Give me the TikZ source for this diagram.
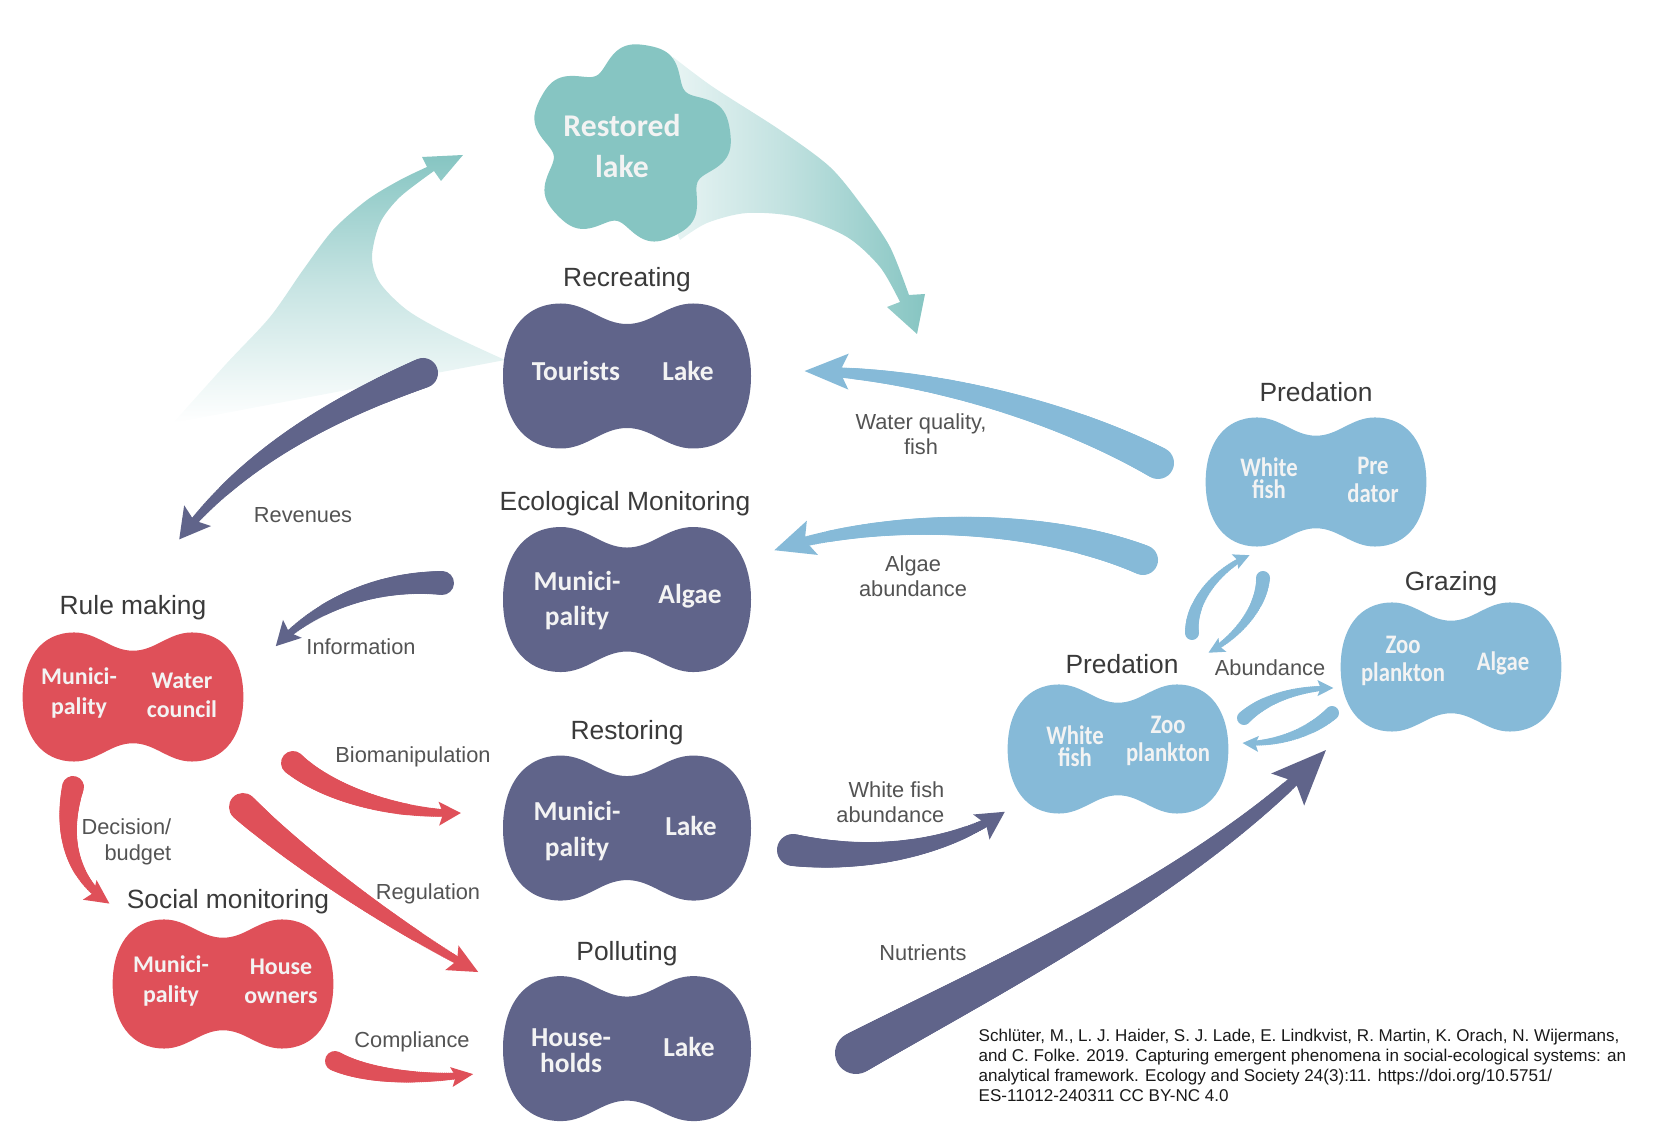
\documentclass[tikz,border=0pt]{standalone}
\usepackage{fontspec}
\setmainfont{Liberation Sans}
\newfontfamily\blobfont{Carlito}
\newfontfamily\blobnarrow[FakeStretch=0.85]{Carlito}
\usepackage{xcolor}
\usetikzlibrary{calc,positioning,decorations.markings}
\definecolor{ActorDark}{HTML}{60648A}
\definecolor{ActorRed}{HTML}{DF5059}
\definecolor{EcoBlue}{HTML}{86BAD8}
\definecolor{LakeTeal}{HTML}{86C5C2}
\definecolor{TitleGrey}{HTML}{3A3A3A}
\definecolor{LabelGrey}{HTML}{535353}
\definecolor{BlobText}{HTML}{F3F3F3}
\newcommand{\peanut}[3]{%
    \fill[#1, shift={(#2)}, scale=#3]
        (0,-52) .. controls (-25,-52) and (-40,-72.5) .. (-66,-72.5)
        .. controls (-104,-72.5) and (-124,-42) .. (-124,0)
        .. controls (-124,42) and (-104,72.5) .. (-66,72.5)
        .. controls (-40,72.5) and (-25,52) .. (0,52)
        .. controls (25,52) and (40,72.5) .. (66,72.5)
        .. controls (104,72.5) and (124,42) .. (124,0)
        .. controls (124,-42) and (104,-72.5) .. (66,-72.5)
        .. controls (40,-72.5) and (25,-52) .. (0,-52) -- cycle;%
}

\begin{document}
\begin{tikzpicture}[x=0.01cm, y=-0.01cm,
    blob/.style={minimum width=2.48cm, minimum height=1.45cm, inner sep=0pt},
    smallblob/.style={minimum width=2.21cm, minimum height=1.29cm, inner sep=0pt},
    blobtitle/.style={font=\fontsize{7.5}{9}\selectfont, text=TitleGrey, inner sep=0pt},
    flowlabel/.style={font=\fontsize{6.2}{7.2}\selectfont, text=LabelGrey, align=center, inner sep=0pt},
    darktxt/.style={font=\blobfont\bfseries\fontsize{7.8}{10}\selectfont, text=BlobText, align=center, inner sep=0pt},
    redtxt/.style={font=\blobfont\bfseries\fontsize{6.8}{8.3}\selectfont, text=BlobText, align=center, inner sep=0pt},
    bluetxt/.style={font=\blobnarrow\bfseries\fontsize{7.6}{8}\selectfont, text=BlobText, align=center, inner sep=0pt},
    brush/.style n args={5}{
        decoration={markings,
            mark=between positions 0 and 0.93 step 0.6pt with {%
                \pgfmathsetmacro\brushr{(#2-(#2-#3)*\pgfkeysvalueof{/pgf/decoration/mark info/distance from start}/\pgfdecoratedpathlength)*0.2845}%
                \fill[#1] (0pt,0pt) circle (\brushr pt);
            },
            mark=at position 0.995 with {\fill[#1] (0,0) -- (-#4,#5/2) -- (-0.8*#4,0) -- (-#4,-#5/2) -- cycle;}
        },
        decorate}]
    \useasboundingbox (0,0) rectangle (1654,1122);

    \node[blob] (rec) at (627,376) {};
    \node[blob, below=0.77cm of rec] (eco) {};
    \node[blob, below=0.82cm of eco] (rst) {};
    \node[blob, below=0.74cm of rst] (pol) {};
    \node[smallblob] (rule) at (133,697) {};
    \node[smallblob] (soc) at (223,984) {};
    \node[smallblob] (predT) at (1316,482) {};
    \node[smallblob] (graz) at (1451,667) {};
    \node[smallblob] (predB) at (1118,749) {};
    \coordinate (lakeC) at (630,145);

    \shade[top color=LakeTeal, bottom color=white, middle color=LakeTeal!45]
        plot[smooth] coordinates {(173,423) (227,363) (270,317) (303,270) (333,230) (367,200) (400,180) (427,167)}
        -- (422,157) -- (463,155) -- (441,181)
        -- plot[smooth] coordinates {(434,171) (400,197) (380,223) (372,257) (380,283) (407,310) (447,333) (505,360)}
        -- cycle;
    \shade[left color=LakeTeal!10, right color=LakeTeal, middle color=LakeTeal!50]
        (640,150) -- plot[smooth] coordinates {(673,57) (713,87) (780,130) (830,167) (863,207) (890,247) (909,295)}
        -- (925,294) -- (917,334) -- (887,307)
        -- plot[smooth] coordinates {(900,302) (880,267) (847,237) (797,217) (747,213) (707,223) (680,240)}
        -- cycle;
    \fill[LakeTeal, shift={(lakeC)}] plot[domain=0:360, samples=200, variable=\t]
        ({(92+12*cos(5*(\t-80))-3*cos(10*(\t-80)))*cos(\t)}, {-(92+12*cos(5*(\t-80))-3*cos(10*(\t-80)))*sin(\t)}) -- cycle;

    \peanut{ActorDark}{rec}{1}
    \peanut{ActorDark}{eco}{1}
    \peanut{ActorDark}{rst}{1}
    \peanut{ActorDark}{pol}{1}
    \peanut{ActorRed}{rule}{0.89}
    \peanut{ActorRed}{soc}{0.89}
    \peanut{EcoBlue}{predT}{0.89}
    \peanut{EcoBlue}{graz}{0.89}
    \peanut{EcoBlue}{predB}{0.89}

    \node[font=\blobfont\bfseries\fontsize{9}{11.4}\selectfont, text=BlobText, align=center, inner sep=0pt] (lake) at (622,146) {Restored\\lake};

    \node[blobtitle, above=0.16cm of rec, anchor=base] (recT) {Recreating};
    \node[blobtitle, above=0.16cm of eco, anchor=base, xshift=-0.02cm] (ecoT) {Ecological Monitoring};
    \node[blobtitle, above=0.15cm of rst, anchor=base] (rstT) {Restoring};
    \node[blobtitle, above=0.145cm of pol, anchor=base] (polT) {Polluting};
    \node[blobtitle, above=0.17cm of rule, anchor=base] (ruleT) {Rule making};
    \node[blobtitle, above=0.10cm of soc, anchor=base, xshift=0.05cm] (socT) {Social monitoring};
    \node[blobtitle, above=0.15cm of predT, anchor=base] (predTT) {Predation};
    \node[blobtitle, above=0.11cm of graz, anchor=base] (grazT) {Grazing};
    \node[blobtitle, above=0.10cm of predB, anchor=base, xshift=0.04cm] (predBT) {Predation};

    \node[darktxt] (recA) at ($(rec)+(-51,-5)$) {Tourists};
    \node[darktxt] (recB) at ($(rec)+(61,-5)$) {Lake};
    \node[darktxt] (ecoA) at ($(eco)+(-50,1)$) {Munici-\\pality};
    \node[darktxt] (ecoB) at ($(eco)+(63,-3)$) {Algae};
    \node[darktxt] (rstA) at ($(rst)+(-50,3)$) {Munici-\\pality};
    \node[darktxt] (rstB) at ($(rst)+(64,-2)$) {Lake};
    \node[darktxt] (polA) at ($(pol)+(-56,2)$) {House-\\[-2.6pt]holds};
    \node[darktxt] (polB) at ($(pol)+(62,-2)$) {Lake};
    \node[redtxt] (ruleA) at ($(rule)+(-54,-4)$) {Munici-\\pality};
    \node[redtxt] (ruleB) at ($(rule)+(49,-2)$) {Water\\council};
    \node[redtxt] (socA) at ($(soc)+(-52,-3)$) {Munici-\\pality};
    \node[redtxt] (socB) at ($(soc)+(58,-3)$) {House\\owners};
    \node[bluetxt] (predTA) at ($(predT)+(-47,-4)$) {White\\[-1.6pt]fish};
    \node[bluetxt] (predTB) at ($(predT)+(57,-2)$) {Pre\\dator};
    \node[bluetxt] (grazA) at ($(graz)+(-48,-6)$) {Zoo\\plankton};
    \node[bluetxt] (grazB) at ($(graz)+(52,-4)$) {Algae};
    \node[bluetxt] (predBA) at ($(predB)+(-43,-3)$) {White\\[-1.6pt]fish};
    \node[bluetxt] (predBB) at ($(predB)+(50,-8)$) {Zoo\\plankton};

    \coordinate (revS) at (423,373);   \coordinate (revE) at (178,541);
    \coordinate (infoS) at (442,583);  \coordinate (infoE) at (275,647);
    \coordinate (wqS) at (1158,463);   \coordinate (wqE) at (802,371);
    \coordinate (algS) at (1143,560);  \coordinate (algE) at (772,551);
    \coordinate (wfS) at (793,850);    \coordinate (wfE) at (1006,811);
    \coordinate (nutS) at (856,1053);  \coordinate (nutE) at (1326,750);
    \coordinate (bioS) at (293,763);   \coordinate (bioE) at (462,813);
    \coordinate (decS) at (73,787);    \coordinate (decE) at (110,904);
    \coordinate (regS) at (243,807);   \coordinate (regE) at (480,973);
    \coordinate (compS) at (335,1061); \coordinate (compE) at (474,1074);
    \coordinate (upS) at (1192,633);   \coordinate (upE) at (1250,555);
    \coordinate (dnS) at (1263,578);   \coordinate (dnE) at (1208,653);
    \coordinate (rtS) at (1244,718);   \coordinate (rtE) at (1334,688);
    \coordinate (ltS) at (1332,713);   \coordinate (ltE) at (1242,743);

    \path[brush={ActorDark}{15}{3}{30}{34}] (revS) .. controls (330,410) and (240,460) .. (revE);
    \path[brush={ActorDark}{12}{2.5}{24}{26}] (infoS) .. controls (370,580) and (310,610) .. (infoE);
    \path[brush={EcoBlue}{16}{4}{44}{36}] (wqS) .. controls (1060,410) and (920,372) .. (wqE);
    \path[brush={EcoBlue}{15}{4}{40}{36}] (algS) .. controls (1040,518) and (880,515) .. (algE);
    \path[brush={ActorDark}{16}{3}{28}{30}] (wfS) .. controls (870,862) and (950,848) .. (wfE);
    \path[brush={ActorDark}{21}{4}{55}{46}] (nutS) .. controls (1000,975) and (1200,880) .. (nutE);
    \path[brush={ActorRed}{12}{3}{22}{24}] (bioS) .. controls (330,795) and (400,815) .. (bioE);
    \path[brush={ActorRed}{11}{3}{24}{24}] (decS) .. controls (60,840) and (75,880) .. (decE);
    \path[brush={ActorRed}{14}{3}{30}{28}] (regS) .. controls (300,860) and (400,930) .. (regE);
    \path[brush={ActorRed}{10}{2.5}{22}{20}] (compS) .. controls (370,1078) and (430,1080) .. (compE);
    \path[brush={EcoBlue}{7}{2}{16}{16}] (upS) .. controls (1190,600) and (1220,568) .. (upE);
    \path[brush={EcoBlue}{7}{2}{16}{16}] (dnS) .. controls (1262,605) and (1240,635) .. (dnE);
    \path[brush={EcoBlue}{7}{2}{16}{16}] (rtS) .. controls (1265,698) and (1300,688) .. (rtE);
    \path[brush={EcoBlue}{7}{2}{16}{16}] (ltS) .. controls (1310,733) and (1275,745) .. (ltE);

    \node[flowlabel] (revL) at (303,515) {Revenues};
    \node[flowlabel] (infoL) at (361,647) {Information};
    \node[flowlabel] (wqL) at (921,434) {Water quality,\\fish};
    \node[flowlabel] (algL) at (913,576) {Algae\\abundance};
    \node[flowlabel] (bioL) at (413,757) {Biomanipulation};
    \node[flowlabel, align=right, anchor=east] (decL) at (172,842) {Decision/\\budget};
    \node[flowlabel] (regL) at (428,894) {Regulation};
    \node[flowlabel] (compL) at (412,1042) {Compliance};
    \node[flowlabel, align=right, anchor=east] (wfL) at (945,802) {White fish\\abundance};
    \node[flowlabel] (nutL) at (923,953) {Nutrients};
    \node[flowlabel] (abL) at (1270,668) {Abundance};

    \node[font=\fontsize{4.85}{5.75}\selectfont, text=black!90, align=left, anchor=north west, inner sep=0pt] (cite) at (978,1028)
        {Schlüter, M., L. J. Haider, S. J. Lade, E. Lindkvist, R. Martin, K. Orach, N. Wijermans,\\
         and C. Folke. 2019. Capturing emergent phenomena in social-ecological systems: an\\
         analytical framework. Ecology and Society 24(3):11. https://doi.org/10.5751/\\
         ES-11012-240311 CC BY-NC 4.0};
\end{tikzpicture}
\end{document}
